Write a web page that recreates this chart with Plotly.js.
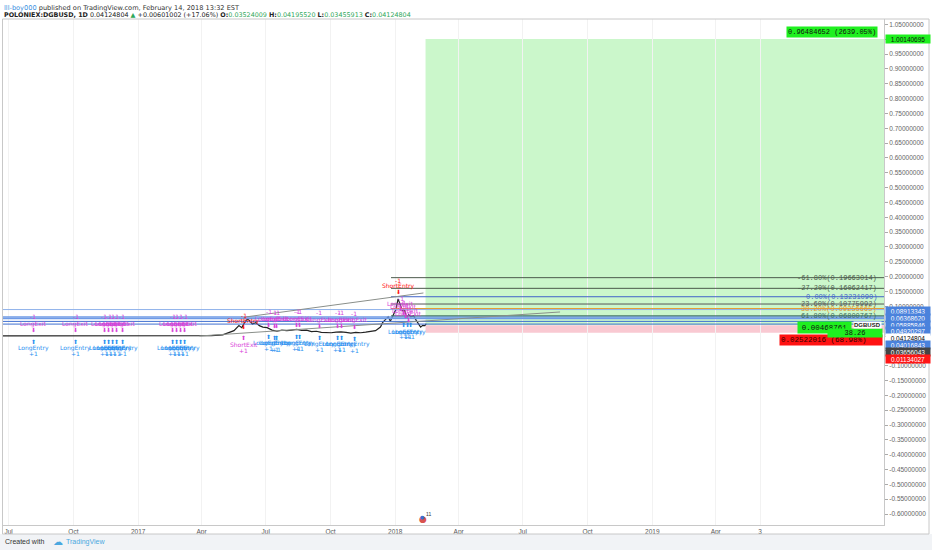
<!DOCTYPE html>
<html><head><meta charset="utf-8">
<script src="https://cdn.plot.ly/plotly-3.0.1.min.js"></script>
<style>html,body{margin:0;padding:0;background:#fff}#chart{width:932px;height:550px}</style>
</head><body><div id="chart"></div>
<script>
// ---------- data ----------
const priceDates = ['2016-06-23','2016-07-15','2016-08-15','2016-09-15','2016-10-15','2016-11-15','2016-12-15','2017-01-15','2017-02-15','2017-03-15','2017-04-01','2017-04-15','2017-05-01','2017-05-10','2017-05-17','2017-05-24','2017-05-28','2017-06-01','2017-06-05','2017-06-08','2017-06-12','2017-06-17','2017-06-22','2017-06-27','2017-07-03','2017-07-10','2017-07-17','2017-07-24','2017-07-31','2017-08-07','2017-08-14','2017-08-21','2017-08-28','2017-09-04','2017-09-11','2017-09-18','2017-09-25','2017-10-02','2017-10-09','2017-10-16','2017-10-23','2017-10-30','2017-11-06','2017-11-13','2017-11-20','2017-11-27','2017-12-04','2017-12-11','2017-12-14','2017-12-18','2017-12-22','2017-12-25','2017-12-29','2018-01-02','2018-01-05','2018-01-07','2018-01-09','2018-01-11','2018-01-14','2018-01-17','2018-01-20','2018-01-23','2018-01-27','2018-01-31','2018-02-03','2018-02-06','2018-02-09','2018-02-12','2018-02-14'];
const priceValues = [0.0003,0.0003,0.0003,0.0003,0.0002,0.0002,0.0002,0.0003,0.0003,0.0004,0.0008,0.0015,0.004,0.012,0.018,0.035,0.028,0.045,0.058,0.052,0.040,0.045,0.035,0.030,0.028,0.020,0.016,0.020,0.018,0.020,0.022,0.019,0.020,0.015,0.016,0.012,0.011,0.011,0.013,0.014,0.012,0.010,0.012,0.011,0.013,0.015,0.018,0.030,0.045,0.055,0.065,0.050,0.070,0.090,0.125,0.115,0.100,0.085,0.090,0.060,0.072,0.065,0.068,0.052,0.040,0.030,0.036,0.035,0.04124804];

const xTickDates = ['2016-07-01','2016-10-01','2017-01-01','2017-04-01','2017-07-01','2017-10-01','2018-01-01','2018-04-01','2018-07-01','2018-10-01','2019-01-01','2019-04-01','2019-06-03'];
const xTickText  = ['Jul','Oct','2017','Apr','Jul','Oct','2018','Apr','Jul','Oct','2019','Apr','3'];

const fibLabels = ['-61.80%','-27.20%','0.00%','23.60%','38.20%','61.80%'];
const fibValues = [0.19663014,0.16062417,0.13231090,0.10775992,0.09256665,0.06800767];
const fibColors = ['#4b5a4b','#4b5a4b','#3f63c8','#555555','#e59a2e','#3b6b5e'];
const fibStart = '2017-12-26';

const levelValues = [0.08913343,0.06368620,0.05885846,0.04920297,0.04016843];
const axisLabelValues = [0.08913343,0.06368620,0.05885846,0.04920297,0.04124804,0.04016843,0.03656043,0.01134027];
const axisLabelKinds  = ['level','level','level','level','last','level','entry','stop'];

const entryPrice = 0.03656043, targetPrice = 1.00140695, stopPrice = 0.01134027, lastPrice = 0.04124804;
const positionStart = '2018-02-13';
const targetText = '0.96484652 (2639.05%)';
const stopText = '0.02522016 (68.98%)';
const openPLText = '0.00468761';
const ratioText = '38.26';

const trendA = {d:['2017-06-02','2018-02-10'], v:[0.064,0.145]};
const trendB = {d:['2017-03-29','2018-08-23'], v:[0.0,0.081]};

const pairDates = ['2016-08-05','2016-10-04','2016-11-14','2016-11-20','2016-11-25','2016-12-01','2016-12-09','2017-02-19','2017-02-24','2017-03-02','2017-03-08','2017-07-05','2017-07-13','2017-07-17','2017-08-14','2017-08-18','2017-09-15','2017-10-11','2017-10-16','2017-11-04'];
const pairLevels = [0.0003,0.0003,0.0003,0.0003,0.0003,0.0003,0.0003,0.0003,0.0003,0.0003,0.0003,0.017,0.016,0.016,0.018,0.018,0.015,0.014,0.014,0.013];
const shortEntryDates = ['2017-05-31','2018-01-05'];
const shortEntryLevels = [0.0135,0.132];
const shortExitDates = ['2017-05-31'];
const shortExitLevels = [0.0135];
const peakExitDates = ['2018-01-09','2018-01-12','2018-01-16','2018-01-20'];
const peakExitLevels = [0.108,0.097,0.085,0.074];
const peakEntryDates = ['2018-01-13','2018-01-18','2018-01-23'];
const peakEntryLevels = [0.054,0.054,0.054];

const xRange = ['2016-06-23','2019-11-26'];

// ---------- geometry helpers ----------
const L=3, R=884, T=19, B=525;
const pX = p => (p-L)/(R-L);
const pY = p => (B-p)/(B-T);

const BLUE='#2a8ff0', MAG='#d940d9', RED='#ff1010';

const ann = [];
const shapes = [];

function mark(d, v, text, color, shift, size){
  ann.push({x:d, y:v, xref:'x', yref:'y', text:text, showarrow:false, yshift:shift,
    font:{family:'DejaVu Sans, Liberation Sans', size:size||6, color:color}});
}

pairDates.forEach((d,i)=>{
  const v=pairLevels[i];
  mark(d,v,'-1',MAG,19); mark(d,v,'LongExit',MAG,12); mark(d,v,'⬇',MAG,6,6);
  mark(d,v,'⬆',BLUE,-6,6); mark(d,v,'LongEntry',BLUE,-12); mark(d,v,'+1',BLUE,-18);
});
shortEntryDates.forEach((d,i)=>{
  const v=shortEntryLevels[i];
  mark(d,v,'⬇',RED,5,6); mark(d,v,'ShortEntry',RED,11); mark(d,v,'-1',RED,16);
});
shortExitDates.forEach((d,i)=>{
  const v=shortExitLevels[i];
  mark(d,v,'⬆',MAG,-6,6); mark(d,v,'ShortExit',MAG,-13); mark(d,v,'+1',MAG,-19);
});
peakExitDates.forEach((d,i)=>{
  const v=peakExitLevels[i];
  mark(d,v,'LongExit',MAG,0); mark(d,v,'-1',MAG,5); mark(d,v,'⬇',MAG,-5,6);
});
peakEntryDates.forEach((d,i)=>{
  const v=peakEntryLevels[i];
  mark(d,v,'⬆',BLUE,-5,6); mark(d,v,'LongEntry',BLUE,-12); mark(d,v,'+1',BLUE,-17);
});

shapes.push({type:'rect', xref:'x', yref:'y', x0:positionStart, x1:xRange[1], y0:entryPrice, y1:targetPrice,
  fillcolor:'#cbf7cb', line:{width:0}, layer:'below'});
shapes.push({type:'rect', xref:'x', yref:'y', x0:positionStart, x1:xRange[1], y0:stopPrice, y1:entryPrice,
  fillcolor:'#f9c9d2', line:{width:0}, layer:'below'});

levelValues.forEach((v,i)=>{
  shapes.push({type:'line', xref:'paper', yref:'y', x0:0, x1:1, y0:v, y1:v,
    line:{color: i===0 ? '#8fb2ea' : (i<3 ? '#6f9be6' : '#3f6fd0'), width: i===1||i===2 ? 1.5 : 1}});
});

fibValues.forEach((v,i)=>{
  shapes.push({type:'line', xref:'x', yref:'y', x0:fibStart, x1:xRange[1], y0:v, y1:v,
    line:{color:fibColors[i], width:1}});
  ann.push({x:1, xref:'paper', y:v, yref:'y', xanchor:'right', yanchor:'middle', xshift:-5, showarrow:false,
    text: fibLabels[i]+'('+v.toFixed(8)+')',
    font:{family:'Liberation Mono, DejaVu Sans Mono', size:7, color:fibColors[i]}});
});

[trendA,trendB].forEach(t=>{
  shapes.push({type:'line', xref:'x', yref:'y', x0:t.d[0], x1:t.d[1], y0:t.v[0], y1:t.v[1],
    line:{color:'#8a8f8a', width:1}});
});

const kindStyle = {level:{bg:'#4a82dc',fc:'#fff'}, last:{bg:'#ffffff',fc:'#000'}, entry:{bg:'#444444',fc:'#fff'}, stop:{bg:'#ff1515',fc:'#fff'}};
axisLabelValues.forEach((v,i)=>{
  const st = kindStyle[axisLabelKinds[i]];
  ann.push({x:1, xref:'paper', y:pY(310.7 + 6.9*i), yref:'paper', xanchor:'left', yanchor:'middle', xshift:1,
    showarrow:false, text:v.toFixed(8), bgcolor:st.bg, borderpad:0.5, width:43, align:'center',
    font:{family:'Liberation Sans, Arial', size:6.5, color:st.fc}});
});
ann.push({x:1, xref:'paper', y:targetPrice, yref:'y', xanchor:'left', yanchor:'middle', xshift:1,
  showarrow:false, text:targetPrice.toFixed(8), bgcolor:'#1ff01f', borderpad:0.5, width:43,
  font:{family:'Liberation Sans, Arial', size:6.5, color:'#111'}});
ann.push({x:1, xref:'paper', y:targetPrice, yref:'y', xanchor:'right', yanchor:'bottom', xshift:-6, yshift:1,
  showarrow:false, text:targetText, bgcolor:'#1ff01f', borderpad:1,
  font:{family:'Liberation Mono, DejaVu Sans Mono', size:7, color:'#111'}});
ann.push({x:1, xref:'paper', y:stopPrice, yref:'y', xanchor:'right', yanchor:'top', xshift:-1, yshift:-1.5,
  showarrow:false, text:stopText, bgcolor:'#ff1212', borderpad:1, width:100, align:'left',
  font:{family:'Liberation Mono, DejaVu Sans Mono', size:7.5, color:'#300'}});
ann.push({x:1, xref:'paper', y:lastPrice, yref:'y', xanchor:'right', yanchor:'top', xshift:-32, yshift:3,
  showarrow:false, text:openPLText, bgcolor:'#1ff01f', borderpad:1.5, width:50,
  font:{family:'Liberation Mono, DejaVu Sans Mono', size:7.5, color:'#111'}});
ann.push({x:1, xref:'paper', y:lastPrice, yref:'y', xanchor:'right', yanchor:'top', xshift:-1, yshift:-4.5,
  showarrow:false, text:ratioText, bgcolor:'#1ff01f', borderpad:0, width:54, align:'center',
  font:{family:'Liberation Mono, DejaVu Sans Mono', size:7, color:'#111'}});
ann.push({x:1, xref:'paper', y:lastPrice, yref:'y', xanchor:'right', yanchor:'top', xshift:-2, yshift:3,
  showarrow:false, text:'<b>DGBUSD</b>', bgcolor:'#ffffff', borderpad:0,
  font:{family:'Liberation Sans, Arial', size:6, color:'#222'}});

ann.push({x:pX(2), y:pY(7.5), xref:'paper', yref:'paper', xanchor:'left', yanchor:'middle', showarrow:false,
  text:'<span style="color:#3a8fe0">lll-boy000</span> published on TradingView.com, February 14, 2018 13:32 EST',
  font:{family:'DejaVu Sans', size:6.6, color:'#333'}});
const G='#2fa85a';
ann.push({x:pX(2), y:pY(15), xref:'paper', yref:'paper', xanchor:'left', yanchor:'middle', showarrow:false,
  text:'<b>POLONIEX:DGBUSD, 1D</b> 0.04124804 <span style="color:'+G+'">▲</span> +0.00601002 (+17.06%) <b>O:</b><span style="color:'+G+'">0.03524009</span> <b>H:</b><span style="color:'+G+'">0.04195520</span> <b>L:</b><span style="color:'+G+'">0.03455913</span> <b>C:</b><span style="color:'+G+'">0.04124804</span>',
  font:{family:'DejaVu Sans', size:6.4, color:'#222'}});

shapes.push({type:'rect', xref:'paper', yref:'paper', x0:pX(0), x1:pX(932), y0:pY(550), y1:pY(534),
  fillcolor:'#f1f3f6', line:{width:0}});
shapes.push({type:'rect', xref:'paper', yref:'paper', x0:pX(2.5), x1:pX(929), y0:pY(534), y1:pY(19),
  fillcolor:'rgba(0,0,0,0)', line:{color:'#c8c8c8', width:1}});
ann.push({x:pX(3), y:pY(541.5), xref:'paper', yref:'paper', xanchor:'left', yanchor:'middle', showarrow:false,
  text:'Created with', font:{family:'Liberation Sans, Arial', size:7, color:'#333'}});
ann.push({x:pX(51), y:pY(541), xref:'paper', yref:'paper', xanchor:'left', yanchor:'middle', showarrow:false,
  text:'☁', font:{family:'DejaVu Sans', size:10, color:'#4aa8e0'}});
ann.push({x:pX(64), y:pY(541.5), xref:'paper', yref:'paper', xanchor:'left', yanchor:'middle', showarrow:false,
  text:'TradingView', font:{family:'Liberation Sans, Arial', size:7, color:'#4aa8e0'}});
ann.push({x:pX(423), y:pY(519), xref:'paper', yref:'paper', xanchor:'center', yanchor:'middle', showarrow:false,
  text:'●', font:{family:'DejaVu Sans', size:9, color:'#d9534f'}});
ann.push({x:pX(422), y:pY(517), xref:'paper', yref:'paper', xanchor:'center', yanchor:'middle', showarrow:false,
  text:'●', font:{family:'DejaVu Sans', size:5, color:'#3b6fd0'}});
ann.push({x:pX(428), y:pY(513.5), xref:'paper', yref:'paper', xanchor:'center', yanchor:'middle', showarrow:false,
  text:'11', font:{family:'Liberation Sans', size:5, color:'#333'}});

const yTickVals = [], yTickText = [];
for (let k=-12; k<=21; k++){ const v=k*0.05; yTickVals.push(v); yTickText.push(v.toFixed(8)); }

const traces = [{
  type:'scatter', mode:'lines', x:priceDates, y:priceValues,
  line:{color:'#222', width:1.2}, hoverinfo:'skip'
}];

const layout = {
  width:932, height:550, paper_bgcolor:'#ffffff', plot_bgcolor:'#ffffff',
  margin:{l:L, r:932-R, t:T, b:550-B}, showlegend:false,
  xaxis:{type:'date', range:xRange, tickvals:xTickDates, ticktext:xTickText,
    tickfont:{family:'Liberation Sans, Arial', size:6.5, color:'#555'},
    showgrid:true, gridcolor:'#f2f2f2', zeroline:false, showline:true, linecolor:'#c8c8c8',
    ticks:'', fixedrange:true},
  yaxis:{side:'right', range:[(336-525)/296.7, (336-19)/296.7], tickvals:yTickVals, ticktext:yTickText,
    tickfont:{family:'Liberation Sans, Arial', size:6.5, color:'#666'},
    ticks:'outside', ticklen:3, tickcolor:'#aaa', showgrid:false, zeroline:false,
    showline:true, linecolor:'#c8c8c8', fixedrange:true},
  shapes:shapes, annotations:ann
};

Plotly.newPlot('chart', traces, layout, {staticPlot:true, displayModeBar:false});
</script></body></html>
